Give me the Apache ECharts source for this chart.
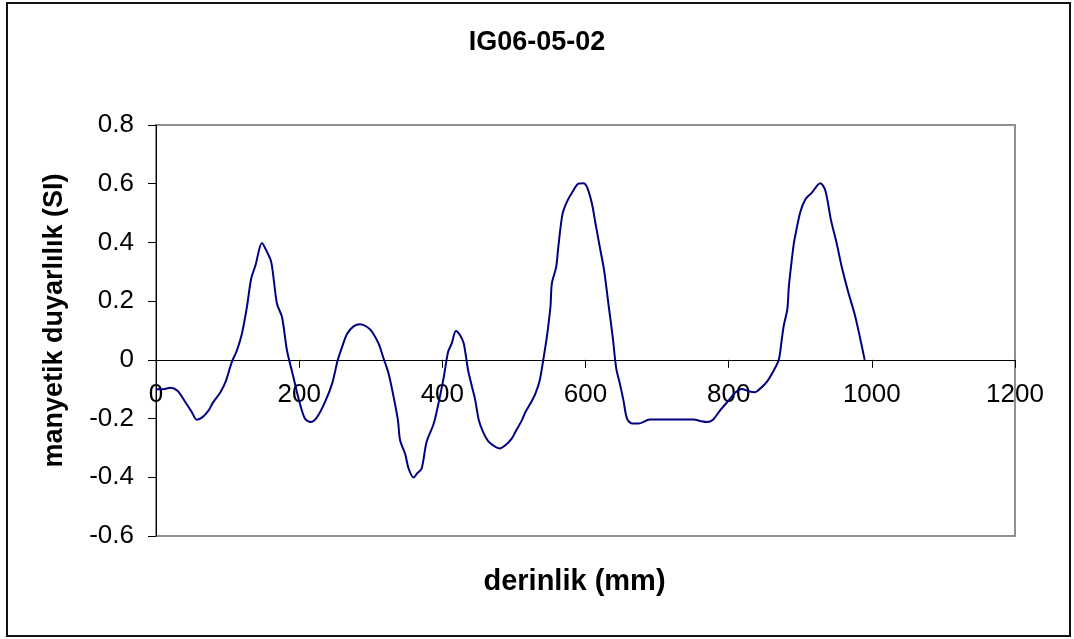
<!DOCTYPE html>
<html>
<head>
<meta charset="utf-8">
<script src="https://cdn.jsdelivr.net/npm/echarts@6/dist/echarts.min.js"></script>
<style>
html,body{margin:0;padding:0;background:#fff;}
#chart{width:1074px;height:639px;}
</style>
</head>
<body>
<div id="chart"></div>
<script>
const chartTitle = "IG06-05-02";
const xAxisName = "derinlik (mm)";
const yAxisName = "manyetik duyarlılık (SI)";
const xTicks = [0, 200, 400, 600, 800, 1000, 1200];
const yTicks = [-0.6, -0.4, -0.2, 0, 0.2, 0.4, 0.6, 0.8];

const depth = [0,10,20,30,40,50,57,65,73,80,90,97,106,113,120,127,133,139,148,154,
161,169,176,183,192,200,208,216,225,236,246,254,260,267,276,285,295,302,311,318,
325,332,338,341,348,353,360,365,371,378,388,395,402,408,413,419,425,430,436,441,
446,451,457,464,472,480,488,497,502,511,516,523,530,536,541,546,551,553,559,562,
568,575,583,590,597,602,609,614,620,626,632,638,643,648,653,658,665,674,690,751,
760,770,778,788,800,809,818,828,837,844,853,863,870,874,877,882,884,887,891,894,
900,907,916,928,935,943,951,958,967,977,990];
const susceptibility = [-0.10,-0.10,-0.095,-0.105,-0.14,-0.178,-0.204,-0.195,-0.174,-0.144,-0.11,-0.076,-0.007,0.032,0.089,0.18,0.277,0.322,0.398,0.373,
0.333,0.191,0.146,0.032,-0.059,-0.14,-0.2,-0.212,-0.195,-0.144,-0.081,0,0.044,0.089,0.114,0.121,0.112,0.095,0.055,0.004,
-0.047,-0.127,-0.206,-0.274,-0.32,-0.371,-0.401,-0.386,-0.371,-0.28,-0.217,-0.144,-0.059,0.027,0.055,0.098,0.083,0.055,-0.036,-0.087,
-0.138,-0.206,-0.246,-0.277,-0.293,-0.302,-0.291,-0.268,-0.246,-0.206,-0.178,-0.149,-0.115,-0.07,0,0.078,0.18,0.26,0.316,0.384,
0.498,0.543,0.577,0.6,0.602,0.589,0.532,0.464,0.384,0.305,0.191,0.078,-0.03,-0.081,-0.138,-0.2,-0.217,-0.217,-0.203,-0.203,
-0.208,-0.212,-0.204,-0.172,-0.138,-0.112,-0.099,-0.107,-0.11,-0.098,-0.076,-0.036,0,0.066,0.117,0.174,0.248,0.316,0.396,0.435,
0.503,0.546,0.569,0.602,0.577,0.475,0.396,0.316,0.231,0.146,0];

const seriesData = depth.map((d, i) => [d, susceptibility[i]]);
const FONT = "Arial, 'Liberation Sans', sans-serif";

const GRID_TOP = 125, GRID_BOTTOM = 103, CH = 639;
const plotH = CH - GRID_TOP - GRID_BOTTOM;
const yMin = yTicks[0], yMax = yTicks[yTicks.length - 1];
// distance from the bottom edge of the plot to the y = 0 line
const zeroFromBottom = plotH * (0 - yMin) / (yMax - yMin);

const chart = echarts.init(document.getElementById('chart'), null, {renderer: 'canvas'});
chart.setOption({
  animation: false,
  backgroundColor: '#ffffff',
  title: {
    text: chartTitle,
    left: 'center',
    top: 24,
    textStyle: {fontFamily: FONT, fontSize: 27, fontWeight: 'bold', color: '#000'}
  },
  grid: {
    left: 156, top: GRID_TOP, right: 59, bottom: GRID_BOTTOM,
    containLabel: false,
    outerBoundsMode: 'none',
    show: true, borderColor: '#909090', borderWidth: 2, backgroundColor: '#fff'
  },
  graphic: [{
    type: 'rect',
    shape: {x: 7, y: 3, width: 1063, height: 633},
    style: {fill: 'none', stroke: '#111', lineWidth: 2},
    silent: true, z: -1
  }],
  xAxis: {
    type: 'value',
    position: 'bottom',
    offset: -zeroFromBottom,
    min: xTicks[0], max: xTicks[xTicks.length - 1], interval: xTicks[1] - xTicks[0],
    name: xAxisName,
    nameLocation: 'middle',
    nameGap: 208,
    nameTextStyle: {fontFamily: FONT, fontSize: 29, fontWeight: 'bold', color: '#000', padding: [0, 22, 0, 0]},
    axisLine: {onZero: false, lineStyle: {color: '#000', width: 1}},
    axisTick: {show: true, inside: false, length: 8, lineStyle: {color: '#000'}},
    axisLabel: {fontFamily: FONT, fontSize: 26, color: '#000', margin: 22,
      formatter: v => String(Math.round(v))},
    splitLine: {show: false}
  },
  yAxis: {
    type: 'value',
    min: yMin, max: yMax, interval: 0.2,
    name: yAxisName,
    nameLocation: 'middle',
    nameGap: 88,
    nameRotate: 90,
    nameTextStyle: {fontFamily: FONT, fontSize: 27, fontWeight: 'bold', color: '#000', padding: [0, 0, 0, 20]},
    axisLine: {show: true, onZero: false, lineStyle: {color: '#000', width: 1}},
    axisTick: {show: true, inside: false, length: 8, lineStyle: {color: '#000'}},
    axisLabel: {
      fontFamily: FONT, fontSize: 26, color: '#000', margin: 22,
      formatter: v => { const r = Math.round(v * 10) / 10; return r === 0 ? '0' : r.toFixed(1); }
    },
    splitLine: {show: false}
  },
  series: [{
    type: 'line',
    data: seriesData,
    showSymbol: false,
    symbol: 'none',
    smooth: 0.3,
    lineStyle: {color: '#000080', width: 2},
    z: 3
  }]
});
</script>
</body>
</html>
